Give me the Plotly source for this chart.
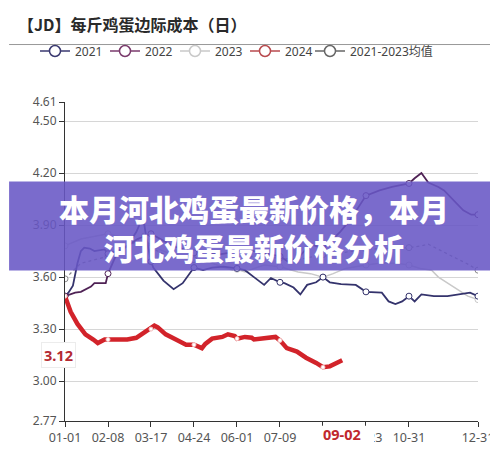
import plotly.graph_objects as go

YEAR = "2024-"
TICK_DATES = ["01-01", "02-08", "03-17", "04-24", "06-01", "07-09", "08-16", "09-23", "10-31", "12-31"]
TICK_TEXT = ["01-01", "02-08", "03-17", "04-24", "06-01", "07-09", "", "09-23", "10-31", "12-31"]
Y_TICKS = [2.77, 3.00, 3.30, 3.60, 3.90, 4.20, 4.50, 4.61]

D2021 = ["01-01", "01-04", "01-08", "01-12", "01-15", "01-18", "01-23", "01-27", "02-05", "02-08",
         "02-16", "02-25", "03-04", "03-10", "03-13", "03-17", "03-19", "03-28", "04-06", "04-14",
         "04-24", "05-02", "05-10", "05-20", "06-01", "06-08", "06-16", "06-25", "07-01", "07-09",
         "07-13", "07-21", "07-27", "08-02", "08-10", "08-16", "08-22", "09-01", "09-14", "09-23",
         "10-07", "10-13", "10-19", "10-25", "10-31", "11-05", "11-11", "11-22", "12-04", "12-16",
         "12-24", "12-31"]
V2021 = [3.49, 3.51, 3.55, 3.68, 3.75, 3.77, 3.765, 3.75, 3.76, 3.735,
         3.75, 3.78, 3.86, 3.95, 3.82, 3.69, 3.655, 3.58, 3.53, 3.565,
         3.655, 3.64, 3.655, 3.66, 3.65, 3.64, 3.60, 3.555, 3.595, 3.57,
         3.565, 3.54, 3.50, 3.555, 3.57, 3.60, 3.57, 3.56, 3.555, 3.515,
         3.51, 3.46, 3.445, 3.46, 3.49, 3.46, 3.50, 3.49, 3.49, 3.50,
         3.51, 3.49]

D2022 = ["01-01", "01-10", "01-15", "01-24", "01-27", "02-06", "02-08", "02-14", "02-19", "02-25",
         "03-05", "03-17", "03-25", "04-05", "04-15", "04-24", "05-05", "05-15", "05-25", "06-01",
         "06-16", "07-02", "07-09", "07-16", "07-25", "08-05", "08-16", "08-31", "09-09", "09-23",
         "10-05", "10-16", "10-31", "11-05", "11-11", "11-17", "11-26", "12-01", "12-10", "12-18",
         "12-25", "12-31"]
V2022 = [3.49, 3.51, 3.515, 3.545, 3.565, 3.565, 3.62, 3.71, 3.75, 3.78,
         3.82, 3.85, 3.82, 3.78, 3.76, 3.74, 3.75, 3.73, 3.74, 3.76,
         3.75, 3.73, 3.72, 3.69, 3.71, 3.79, 3.765, 3.86, 3.93, 4.07,
         4.10, 4.12, 4.14, 4.17, 4.20, 4.145, 4.12, 4.10, 4.04, 3.985,
         3.96, 3.96]

D2023 = ["01-01", "01-15", "02-08", "02-20", "03-05", "03-17", "04-01", "04-12", "04-24", "05-10",
         "05-28", "06-01", "06-08", "06-16", "06-25", "07-09", "07-25", "08-05", "08-16", "08-25",
         "09-05", "09-23", "10-05", "10-20", "10-31", "11-10", "11-20", "11-26", "12-04", "12-13",
         "12-22", "12-31"]
V2023 = [3.78, 3.82, 3.85, 3.83, 3.80, 3.78, 3.74, 3.72, 3.70, 3.68,
         3.64, 3.645, 3.63, 3.65, 3.67, 3.66, 3.63, 3.62, 3.60, 3.62,
         3.65, 3.67, 3.68, 3.68, 3.67, 3.65, 3.64, 3.60, 3.565, 3.53,
         3.49, 3.47]

DMEAN = ["01-01", "01-15", "02-08", "02-20", "03-05", "03-10", "03-17", "04-01", "04-24", "05-15",
         "06-01", "06-16", "07-09", "07-25", "08-16", "09-01", "09-23", "10-12", "10-31", "11-11",
         "11-17", "11-29", "12-11", "12-22", "12-31"]
VMEAN = [3.59, 3.68, 3.72, 3.75, 3.81, 3.85, 3.77, 3.72, 3.70, 3.69,
         3.70, 3.72, 3.71, 3.70, 3.73, 3.74, 3.76, 3.765, 3.77, 3.78,
         3.79, 3.75, 3.71, 3.675, 3.64]

D2024 = ["01-01", "01-06", "01-12", "01-19", "01-26", "01-30", "02-05", "02-08", "02-16", "02-25",
         "03-04", "03-13", "03-17", "03-20", "03-23", "03-30", "04-08", "04-17", "04-24", "05-01",
         "05-04", "05-10", "05-19", "05-24", "05-30", "06-01", "06-08", "06-14", "06-16", "06-22",
         "07-01", "07-05", "07-09", "07-15", "07-24", "08-01", "08-10", "08-16", "08-22", "08-28",
         "09-02"]
V2024 = [3.49, 3.40, 3.33, 3.27, 3.24, 3.22, 3.24, 3.24, 3.24, 3.24,
         3.25, 3.29, 3.30, 3.32, 3.31, 3.27, 3.24, 3.21, 3.21, 3.19,
         3.215, 3.245, 3.255, 3.27, 3.26, 3.245, 3.255, 3.25, 3.24, 3.245,
         3.255, 3.255, 3.235, 3.19, 3.17, 3.135, 3.105, 3.08, 3.085, 3.105,
         3.12]

POINTER_DATE = "09-02"
POINTER_VALUE = 3.12

SERIES = [
    # name, dates, values, color, legend color, width, dash, draw order, legend id
    ("2021", D2021, V2021, "#34336c", "#3a3970", 1.8, "solid", 2, "legend"),
    ("2022", D2022, V2022, "#4f2255", "#7a3a6c", 1.8, "solid", 3, "legend"),
    ("2023", D2023, V2023, "#c9c9c9", "#c9c9c9", 1.5, "solid", 0, "legend"),
    ("2024", D2024, V2024, "#d2232a", "#b84a4e", 4.5, "solid", 4, "legend"),
    ("2021-2023均值", DMEAN, VMEAN, "#8a8a8a", "#666666", 1.3, "dot", 1, "legend2"),
]

FONT = "Noto Sans, Noto Sans CJK SC, sans-serif"
CJK = "Noto Sans CJK SC, sans-serif"

fig = go.Figure()

for name, dates, vals, color, lcolor, width, dash, order, lg in sorted(SERIES, key=lambda s: s[7]):
    xs = [YEAR + d for d in dates]
    fig.add_trace(go.Scatter(x=xs, y=vals, mode="lines", showlegend=False, hoverinfo="skip",
                             line=dict(color=color, width=width, dash=dash)))
    mx = [YEAR + d for d in dates if d in TICK_DATES]
    my = [v for d, v in zip(dates, vals) if d in TICK_DATES]
    is_red = name == "2024"
    fig.add_trace(go.Scatter(x=mx, y=my, mode="markers", showlegend=False, hoverinfo="skip",
                             marker=dict(symbol="circle", size=4 if is_red else 6, color="white",
                                         line=dict(color=color if not is_red else "#f4c0c0",
                                                   width=1))))

for rank, (name, dates, vals, color, lcolor, width, dash, order, lg) in enumerate(SERIES):
    fig.add_trace(go.Scatter(x=[None], y=[None], mode="lines+markers", name=name, legendrank=rank + 1,
                             legend=lg,
                             line=dict(color=lcolor, width=1.5),
                             marker=dict(symbol="circle", size=11, color="white",
                                         line=dict(color=lcolor, width=1.5))))

L, R, T, B = 57, 20, 94, 23
W, H = 498, 450
PW, PH = W - L - R, H - T - B


def px_x(p):
    return (p - L) / PW


def px_y(p):
    return (H - B - p) / PH


LEG_COMMON = dict(orientation="h", xref="container", xanchor="left",
                  yref="container", y=1 - 43 / H, yanchor="middle",
                  font=dict(family=FONT, size=12, color="#444"),
                  bgcolor="rgba(0,0,0,0)")

fig.update_layout(
    width=W, height=H,
    margin=dict(l=L, r=R, t=T, b=B),
    paper_bgcolor="white", plot_bgcolor="white",
    font=dict(family=FONT, size=12, color="#555"),
    title=dict(text="<b>【JD】每斤鸡蛋边际成本（日）</b>", x=10 / W, xanchor="left", xref="container",
               y=1 - 17 / H, yanchor="middle", yref="container",
               font=dict(family=CJK, size=16, color="#2a2a2a")),
    legend=dict(x=27 / W, entrywidth=25, entrywidthmode="pixels", **LEG_COMMON),
    legend2=dict(x=302 / W, **LEG_COMMON),
    xaxis=dict(type="date", range=[YEAR + "01-01", YEAR + "12-31"],
               tickvals=[YEAR + d for d in TICK_DATES], ticktext=TICK_TEXT,
               showgrid=False, showline=True, linecolor="#333", linewidth=1,
               ticks="outside", ticklen=5, tickcolor="#333",
               tickfont=dict(size=12.5, color="#555"), zeroline=False),
    yaxis=dict(range=[Y_TICKS[0], Y_TICKS[-1]], tickvals=Y_TICKS,
               ticktext=[f"{v:.2f}" for v in Y_TICKS],
               showgrid=True, gridcolor="#d6d6d6", gridwidth=1,
               showline=True, linecolor="#333", linewidth=1,
               ticks="outside", ticklen=5, tickcolor="#333",
               tickfont=dict(size=12, color="#555"), zeroline=False),
)

fig.add_shape(type="line", xref="paper", yref="paper", x0=px_x(0), x1=px_x(495),
              y0=px_y(34), y1=px_y(34), line=dict(color="#999", width=1))

fig.add_shape(type="rect", xref="paper", yref="paper", x0=px_x(313), x1=px_x(372),
              y0=px_y(450), y1=px_y(432), fillcolor="white", line=dict(width=0), layer="above")

fig.add_shape(type="rect", xref="paper", yref="paper", x0=px_x(0), x1=px_x(W),
              y0=px_y(270), y1=px_y(177), fillcolor="rgba(104,86,197,0.88)",
              line=dict(width=0), layer="above")

fig.add_annotation(xref="paper", yref="paper", x=px_x(250), y=px_y(225),
                   text="本月河北鸡蛋最新价格，本月<br>河北鸡蛋最新价格分析",
                   showarrow=False, align="center",
                   font=dict(family=CJK, size=30, color="white", weight=900))

fig.add_annotation(xref="x", yref="paper", x=YEAR + POINTER_DATE, y=px_y(441),
                   text=f"<b>{POINTER_DATE}</b>", showarrow=False, yanchor="middle",
                   font=dict(family=FONT, size=14.5, color="#c0282d"))
fig.add_annotation(xref="paper", yref="y", x=px_x(33), y=3.15,
                   text=f"<b>{POINTER_VALUE:.2f}</b>", showarrow=False,
                   bgcolor="white", bordercolor="#ececec", borderwidth=1, borderpad=2,
                   font=dict(family=FONT, size=14.5, color="#b42a32"))

fig.write_html("out.html")
